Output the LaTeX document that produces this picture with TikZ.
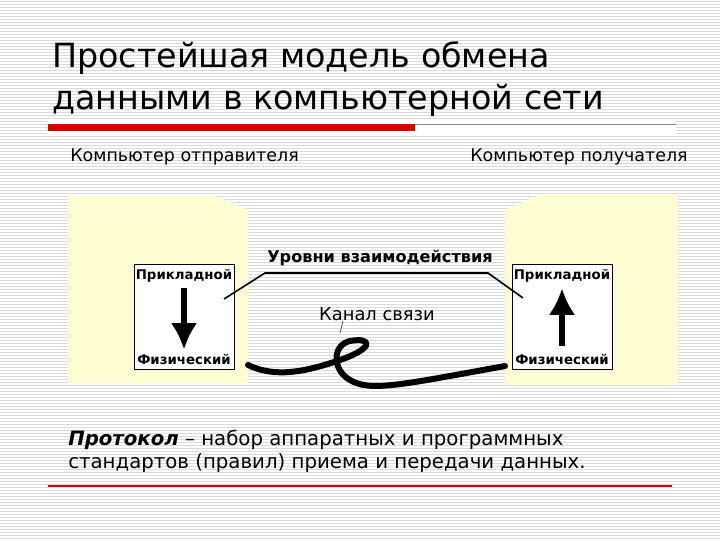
\documentclass[tikz,border=0pt]{standalone}
\usepackage{fontspec}
\setmainfont{DejaVu Sans}
\usetikzlibrary{arrows.meta}
\begin{document}
\begin{tikzpicture}[x=0.75pt,y=-0.75pt,
  lbl/.style={font=\bfseries\fontsize{10}{12}\selectfont,inner sep=0pt},
  wbox/.style={draw=black,fill=white,minimum width=75pt,minimum height=79pt,inner sep=0pt},
  fat/.style={line width=4.5pt,line cap=round,line join=round},
  conn/.style={line width=1.2pt}]
\useasboundingbox (0,0) rectangle (720,540);
\fill[white] (0,0) rectangle (720,540);
\foreach \y in {1,4,...,539} \draw[black!14,line width=0.6pt] (0,\y) -- (720,\y);
% title
\node[anchor=west,inner sep=0pt,font=\fontsize{25}{30}\selectfont] (t1) at (52,58) {Простейшая модель обмена};
\node[anchor=west,inner sep=0pt,font=\fontsize{25}{30}\selectfont] (t2) at (52,100) {данными в компьютерной сети};
\fill[white] (48,120) rectangle (676,134);
\fill[red!85!black] (48,124) rectangle (415,131);
\draw[black!45,line width=0.7pt] (415,124) -- (676,124);
\node[anchor=west,inner sep=0pt,font=\fontsize{13.1}{15}\selectfont] (s) at (70,157) {Компьютер отправителя};
\node[anchor=east,inner sep=0pt,font=\fontsize{13.1}{15}\selectfont] (r) at (688,157) {Компьютер получателя};
% yellow
\fill[yellow!18] (68,196) -- (215,196) -- (248,210) -- (248,383) -- (68,383) -- cycle;
\fill[yellow!18] (505,210) -- (540,195) -- (678,195) -- (678,385) -- (505,385) -- cycle;
% boxes
\node[wbox] (L) at (184,317) {};
\node[wbox] (R) at (562,317) {};
\node[lbl,anchor=north] (Lt) at ([yshift=-4]L.north) {Прикладной};
\node[lbl,anchor=south] (Lb) at ([yshift=4]L.south) {Физический};
\node[lbl,anchor=north] (Rt) at ([yshift=-4]R.north) {Прикладной};
\node[lbl,anchor=south] (Rb) at ([yshift=4]R.south) {Физический};
\draw[line width=4.5pt,-{Latex[length=20pt,width=20pt]}] ([yshift=-4]Lt.south) -- ([yshift=3]Lb.north);
\draw[line width=4.5pt,-{Latex[length=20pt,width=20pt]}] ([yshift=6]Rb.north) -- ([yshift=-4]Rt.south);
% levels
\node[lbl,font=\bfseries\fontsize{12.1}{14}\selectfont] (U) at (380,258) {Уровни взаимодействия};
\coordinate (u1) at (265,273); \coordinate (u2) at (488,273);
\coordinate (la) at (224,299); \coordinate (ra) at (523,298);
\draw[conn] (la) -- (u1) -- (u2) -- (ra);
\node[inner sep=0pt,font=\fontsize{13.4}{15}\selectfont] (K) at (377,314) {Канал связи};
\coordinate (k1) at (343,321); \coordinate (k2) at (340,333);
\draw[black!70,line width=0.6pt] (k1) -- (k2);
% cable
\coordinate (c0) at (248,365); \coordinate (c9) at (505,366);
\draw[fat] (c0) .. controls (275,378) and (305,372) .. (340,360)
  .. controls (375,348) and (372,337) .. (350,341)
  .. controls (332,345) and (332,370) .. (350,380)
  .. controls (370,392) and (400,385) .. (c9);
% protocol
\node[anchor=west,inner sep=0pt,font=\fontsize{14.8}{17}\selectfont] (p1) at (68,440) {\textbf{\itshape Протокол} – набор аппаратных и программных};
\node[anchor=west,inner sep=0pt,font=\fontsize{14.8}{17}\selectfont] (p2) at (68,463) {стандартов (правил) приема и передачи данных.};
\draw[red!85!black,line width=0.8pt] (48,486) -- (672,486);
\end{tikzpicture}
\end{document}
